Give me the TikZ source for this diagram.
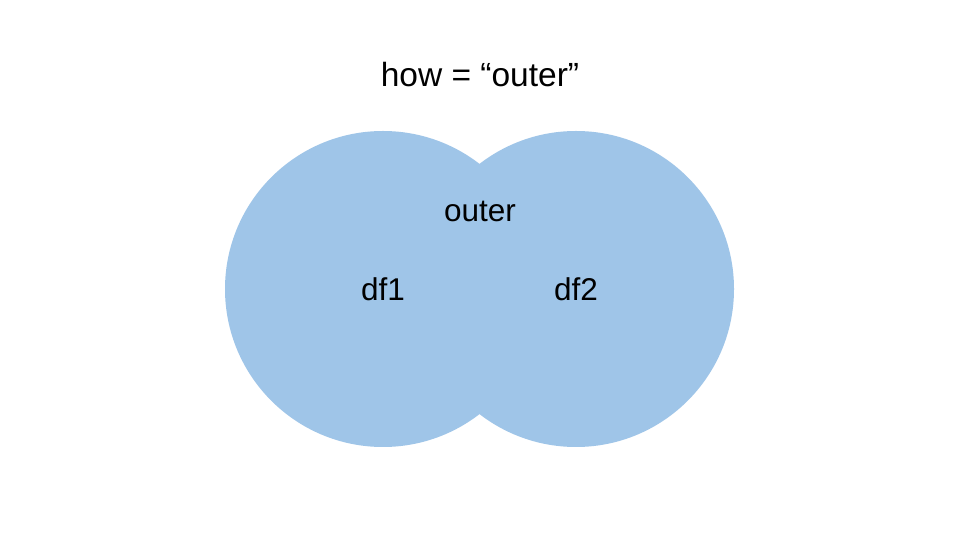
\documentclass[tikz,border=0pt]{standalone}
\usepackage{fontspec}
\setmainfont{Liberation Sans}
\usepackage{tikz}
\usetikzlibrary{positioning}
\definecolor{xanhnhat}{HTML}{9FC5E8}

\begin{document}
\begin{tikzpicture}[x=1pt,y=1pt,
		tapdf/.style={circle,fill=xanhnhat,draw=none,minimum size=316pt,inner sep=0pt,
			font=\fontsize{31.5}{36}\selectfont},
		chu/.style={inner sep=0pt,font=\fontsize{31.5}{36}\selectfont}]
			\useasboundingbox[fill=white] (0,0) rectangle (960,540);
			
			\node[tapdf] (df1) at (383,251) {df1};
			\node[tapdf] (df2) at (576,251) {df2};
			
			\node[chu,anchor=base] (outer) at (480,318.5) {outer};
			
			\node[chu,anchor=base,font=\fontsize{33.5}{40}\selectfont] (how) at (480,453) {how = “outer”};
		
		\end{tikzpicture}
\end{document}
